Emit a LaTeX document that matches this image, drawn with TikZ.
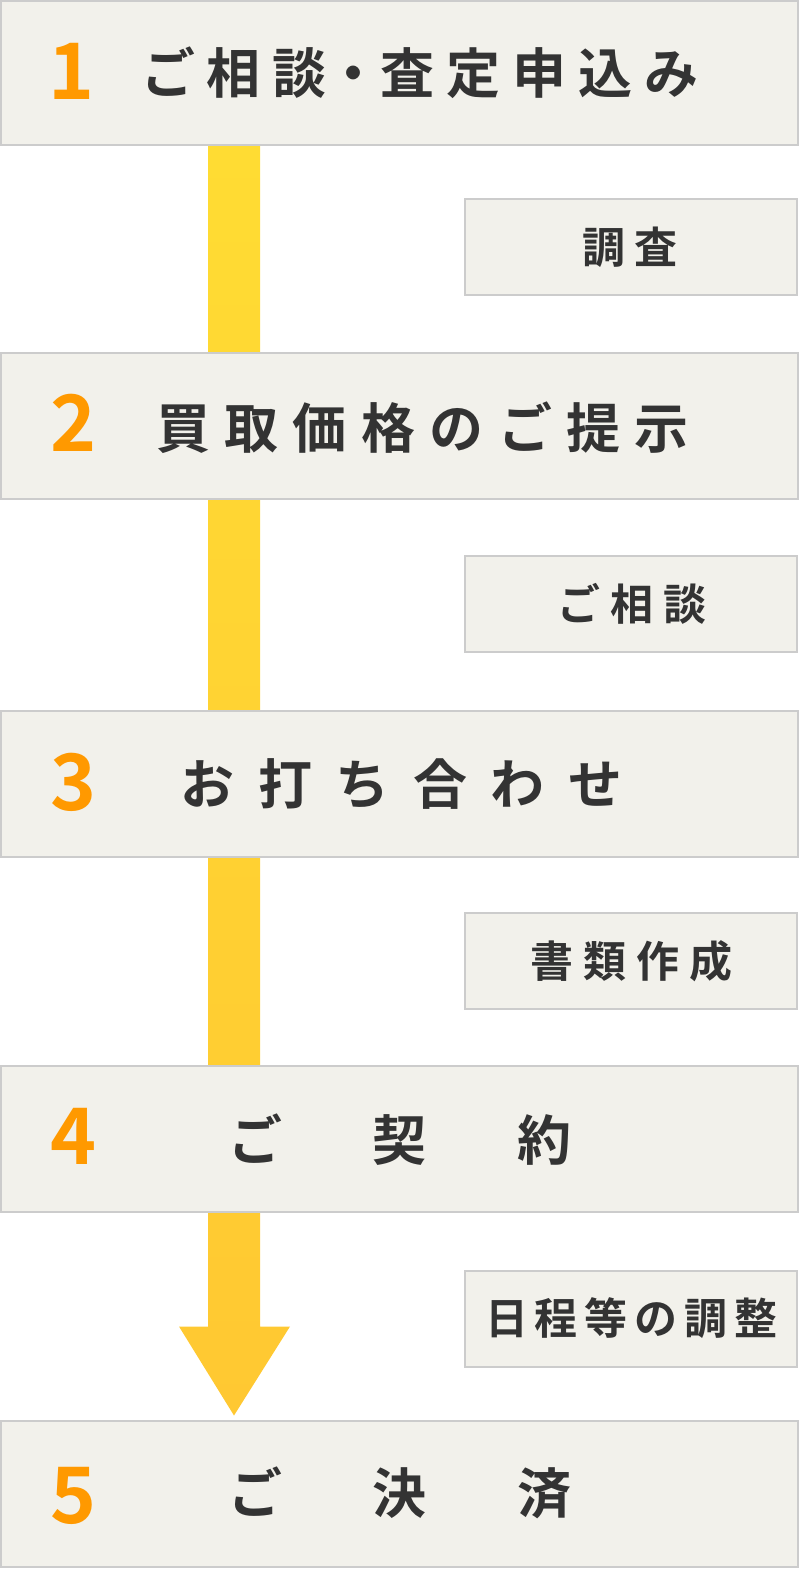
\documentclass[tikz,border=0pt]{standalone}
\usepackage{fontspec}
\newfontfamily\jp{Noto Sans CJK JP}[BoldFont={Noto Sans CJK JP Bold}]
\usetikzlibrary{backgrounds,calc}
\definecolor{boxfill}{HTML}{F2F1EB}
\definecolor{boxline}{HTML}{CCCCCC}
\definecolor{txt}{HTML}{333333}
\definecolor{num}{HTML}{FF9900}
\definecolor{arTop}{HTML}{FFDC33}
\definecolor{arBot}{HTML}{FFC832}
\newlength\gpw
\newcommand\gp{\kern\gpw}
\tikzset{
  bigbox/.style={draw=boxline, fill=boxfill, line width=2pt, minimum width=797pt, minimum height=146pt, inner sep=0pt},
  smallbox/.style={draw=boxline, fill=boxfill, line width=2pt, minimum width=332pt, minimum height=96pt, inner sep=0pt},
  numtxt/.style={text=num, inner sep=0pt, font=\jp\bfseries\fontsize{78}{80}\selectfont},
  bigtxt/.style={text=txt, inner sep=0pt, font=\jp\bfseries\fontsize{54}{60}\selectfont},
  smalltxt/.style={text=txt, inner sep=0pt, font=\jp\bfseries\fontsize{43}{48}\selectfont},
}
\begin{document}
\begin{tikzpicture}[x=1pt,y=-1pt]
\useasboundingbox (0,0) rectangle (800,1569);
% big step boxes
\node[bigbox, minimum height=144pt] (b1) at (399.5,73) {};
\node[bigbox] (b2) at (399.5,425.5) {};
\node[bigbox] (b3) at (399.5,784) {};
\node[bigbox] (b4) at (399.5,1139) {};
\node[bigbox] (b5) at (399.5,1493.5) {};
% small boxes
\node[smallbox] (s1) at (631,247) {};
\node[smallbox] (s2) at (631,604) {};
\node[smallbox] (s3) at (631,960.5) {};
\node[smallbox] (s4) at (631,1318.5) {};
% numbers
\node[numtxt] (n1) at (72,71) {1};
\node[numtxt] (n2) at (74,423) {2};
\node[numtxt] (n3) at (74,782) {3};
\node[numtxt] (n4) at (74,1136) {4};
\node[numtxt] (n5) at (74,1496) {5};
% main labels
\node[bigtxt] (t1) at (420,73) {\gpw=12pt ご\gp 相\gp 談・査\gp 定\gp 申\gp 込\gp み};
\node[bigtxt] (t2) at (422.5,428) {\gpw=14.4pt 買\gp 取\gp 価\gp 格\gp の\gp ご\gp 提\gp 示};
\node[bigtxt] (t3) at (401.5,784) {\gpw=23.5pt お\gp 打\gp ち\gp 合\gp わ\gp せ};
\node[bigtxt] (t4) at (400,1139.5) {\gpw=91pt ご\gp 契\gp 約};
\node[bigtxt] (t5) at (400,1492.5) {\gpw=91pt ご\gp 決\gp 済};
% small labels
\node[smalltxt] (u1) at (630,247) {\gpw=10pt 調\gp 査};
\node[smalltxt] (u2) at (632,604) {\gpw=10pt ご\gp 相\gp 談};
\node[smalltxt] (u3) at (631.5,961) {\gpw=10pt 書\gp 類\gp 作\gp 成};
\node[smalltxt] (u4) at (631.5,1318.5) {\gpw=7pt 日\gp 程\gp 等\gp の\gp 調\gp 整};
% arrow
\coordinate (ax) at (234,0);
\coordinate (start) at (b1.south -| ax);
\coordinate (tip) at ($(b5.north -| ax)+(0,-4)$);
\coordinate (base) at ($(tip)+(0,-89)$);
\begin{scope}[on background layer]
\shade[top color=arTop, bottom color=arBot]
  ($(start)+(-26,0)$) -- ($(start)+(26,0)$) -- ($(base)+(26,0)$) -- ($(base)+(56,0)$)
  -- (tip) -- ($(base)+(-55,0)$) -- ($(base)+(-26,0)$) -- cycle;
\end{scope}
\end{tikzpicture}
\end{document}
